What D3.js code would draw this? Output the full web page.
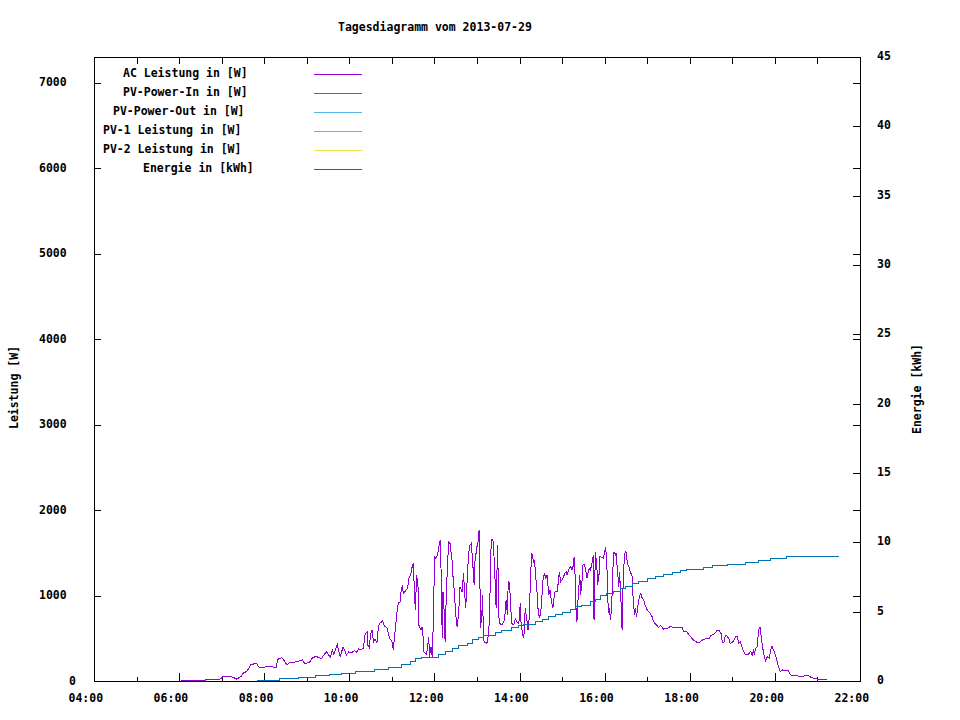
<!DOCTYPE html>
<html>
<head>
<meta charset="utf-8">
<script src="https://cdn.jsdelivr.net/npm/d3@7"></script>
<style>
body { margin: 0; background: #fff; }
text { font-family: "DejaVu Sans Mono", "Liberation Mono", monospace; font-size: 11.5px; font-weight: bold; fill: #000; }
</style>
</head>
<body>
<div id="chart"></div>
<script>
const day = "2013-07-29";
const chartTitle = "Tagesdiagramm vom 2013-07-29";
const yTitle = "Leistung [W]";
const y2Title = "Energie [kWh]";

const seriesNames = ["AC Leistung in [W]", "PV-Power-In in [W]", "PV-Power-Out in [W]",
  "PV-1 Leistung in [W]", "PV-2 Leistung in [W]", "Energie in [kWh]"];
const seriesColors = ["#9400d3", "#009e73", "#56b4e9", "#e69f00", "#f0e442", "#0072b2"];

const xMajorTicks = ["04:00","06:00","08:00","10:00","12:00","14:00","16:00","18:00","20:00","22:00"];
const xMinorTicks = ["05:00","07:00","09:00","11:00","13:00","15:00","17:00","19:00","21:00"];
const yTicks = [0, 1000, 2000, 3000, 4000, 5000, 6000, 7000];
const y2Ticks = [0, 5, 10, 15, 20, 25, 30, 35, 40, 45];
const yMax = 7300;
const y2Max = 45;

// AC Leistung [time, W]
const acPower = [
["06:02",8],["06:37",8],["06:38",23],["06:58",23],["07:00",35],["07:02",55],["07:12",55],["07:16",43],["07:21",23],["07:27",50],
["07:31",97],["07:35",109],["07:38",144],["07:41",191],["07:47",203],["07:49",207],["07:53",156],["08:01",164],["08:03",172],["08:17",160],
["08:19",254],["08:25",273],["08:29",226],["08:32",187],["08:37",222],["08:43",222],["08:48",230],["08:54",246],["08:57",203],["09:04",222],
["09:08",269],["09:13",289],["09:16",277],["09:21",261],["09:24",304],["09:28",343],["09:33",277],["09:36",359],["09:38",312],["09:43",425],
["09:47",284],["09:51",394],["09:54",351],["09:56",304],["09:59",339],["10:03",328],["10:07",355],["10:10",335],["10:13",374],["10:16",363],
["10:20",386],["10:22",538],["10:25",577],["10:26",421],["10:28",390],["10:30",546],["10:32",597],["10:34",460],["10:36",491],["10:39",452],
["10:41",635],["10:43",675],["10:47",702],["10:49",647],["10:53",624],["10:55",558],["10:57",491],["11:00",468],["11:02",363],["11:03",460],
["11:05",616],["11:07",792],["11:09",909],["11:12",928],["11:13",1065],["11:15",1123],["11:16",1026],["11:19",1053],["11:22",1084],["11:24",1201],
["11:27",1260],["11:29",1357],["11:30",1377],["11:32",1026],["11:33",831],["11:35",1241],["11:37",1084],["11:38",655],["11:41",597],["11:43",635],
["11:44",518],["11:45",343],["11:49",312],["11:52",518],["11:53",284],["11:55",401],["11:57",284],["11:59",889],["12:00",1454],["12:02",1435],
["12:04",1474],["12:06",1552],["12:08",1650],["12:09",1435],["12:11",500],["12:12",1045],["12:14",772],["12:15",460],["12:16",811],["12:18",1279],
["12:20",1630],["12:22",1610],["12:25",1396],["12:26",1241],["12:28",1045],["12:30",772],["12:32",635],["12:34",772],["12:36",1104],["12:39",1045],
["12:41",1260],["12:42",1123],["12:44",850],["12:46",1162],["12:48",1474],["12:50",1591],["12:52",1610],["12:54",1377],["12:56",1123],["12:57",1396],
["13:00",1572],["13:01",1591],["13:03",1767],["13:04",1241],["13:05",616],["13:07",811],["13:08",1006],["13:09",500],["13:10",460],["13:13",441],
["13:15",460],["13:17",655],["13:19",1201],["13:20",1650],["13:22",1650],["13:23",1630],["13:25",1279],["13:27",850],["13:29",1591],["13:30",1162],
["13:31",733],["13:32",675],["13:35",655],["13:38",694],["13:40",811],["13:41",947],["13:43",772],["13:44",1162],["13:46",1143],["13:47",927],
["13:49",675],["13:52",655],["13:54",733],["13:56",694],["13:59",675],["14:01",908],["14:02",694],["14:04",558],["14:06",500],["14:08",850],
["14:10",733],["14:12",597],["14:14",772],["14:15",1123],["14:17",1493],["14:18",1474],["14:20",1377],["14:21",1416],["14:23",1201],["14:24",1123],
["14:26",850],["14:28",733],["14:30",811],["14:32",1045],["14:33",1182],["14:35",1260],["14:37",1201],["14:39",1241],["14:41",1006],["14:43",1065],
["14:45",927],["14:47",850],["14:49",1006],["14:50",1045],["14:53",1045],["14:55",1182],["14:56",1279],["14:58",1162],["15:00",1182],["15:02",1221],
["15:04",1260],["15:06",1279],["15:07",1241],["15:09",1299],["15:12",1338],["15:14",1299],["15:16",1357],["15:17",1454],["15:19",1123],["15:20",694],
["15:21",714],["15:23",1045],["15:25",1241],["15:26",1006],["15:28",1162],["15:29",1357],["15:31",1365],["15:33",1318],["15:35",1201],["15:37",1279],
["15:38",1318],["15:40",1299],["15:42",1377],["15:44",1474],["15:45",714],["15:46",1162],["15:47",1513],["15:49",1338],["15:50",1123],["15:52",1241],
["15:53",1454],["15:54",1454],["15:58",1435],["16:00",1513],["16:01",1564],["16:03",1454],["16:04",987],["16:06",792],["16:07",850],["16:08",713],
["16:10",869],["16:11",1221],["16:13",1513],["16:15",1474],["16:16",1493],["16:18",1299],["16:20",1104],["16:21",1279],["16:23",948],["16:24",635],
["16:25",597],["16:26",1143],["16:28",1493],["16:30",1513],["16:32",1377],["16:34",1338],["16:36",1279],["16:39",1221],["16:40",987],["16:42",772],
["16:43",850],["16:45",752],["16:47",889],["16:49",987],["16:51",1026],["16:53",967],["16:55",948],["16:57",889],["17:00",831],["17:04",792],
["17:07",752],["17:09",694],["17:13",655],["17:16",628],["17:19",647],["17:23",608],["17:28",612],["17:32",635],["17:37",628],["17:49",628],
["17:52",573],["17:55",585],["17:59",538],["18:03",499],["18:08",460],["18:13",448],["18:18",480],["18:22",495],["18:27",491],["18:29",526],
["18:34",550],["18:38",585],["18:42",585],["18:44",558],["18:46",448],["18:48",448],["18:50",526],["18:52",530],["18:55",499],["18:57",441],
["19:00",448],["19:03",487],["19:05",526],["19:07",526],["19:09",441],["19:11",460],["19:13",421],["19:15",362],["19:18",312],["19:22",304],
["19:26",351],["19:28",304],["19:30",355],["19:31",323],["19:33",382],["19:35",402],["19:37",597],["19:39",628],["19:41",499],["19:43",382],
["19:45",285],["19:47",238],["19:49",285],["19:52",265],["19:54",362],["19:56",410],["19:58",362],["20:00",323],["20:01",304],["20:03",238],
["20:05",168],["20:07",121],["20:08",110],["20:11",129],["20:14",121],["20:17",129],["20:19",121],["20:21",82],["20:23",66],["20:27",70],
["20:32",62],["20:34",51],["20:41",59],["20:47",66],["20:49",51],["20:55",31],["21:01",20],["21:07",12],["21:14",12]
];

// no data for these on this day
const pvPowerIn = [];
const pvPowerOut = [];
const pv1Power = [];
const pv2Power = [];

// Energie [time, kWh]
const energy = [
["07:50",0.03],["08:22",0.19],["08:48",0.26],["09:12",0.38],["09:32",0.48],["09:49",0.55],["10:08",0.70],["10:36",0.84],["10:55",0.99],["11:14",1.22],
["11:26",1.39],["11:33",1.59],["11:42",1.73],["12:06",1.92],["12:15",2.11],["12:25",2.33],["12:34",2.54],["12:46",2.74],["12:53",2.96],["13:02",3.15],
["13:09",3.29],["13:26",3.48],["13:35",3.63],["13:49",3.84],["13:59",4.01],["14:05",4.09],["14:22",4.28],["14:32",4.47],["14:41",4.64],["14:50",4.81],
["15:00",4.97],["15:12",5.17],["15:19",5.36],["15:28",5.48],["15:40",5.70],["15:47",5.89],["15:54",6.13],["16:03",6.32],["16:13",6.49],["16:22",6.68],
["16:29",6.85],["16:39",7.04],["16:48",7.21],["17:00",7.38],["17:12",7.52],["17:23",7.71],["17:35",7.84],["17:47",7.98],["17:56",8.05],["18:20",8.20],
["18:32",8.31],["18:53",8.43],["19:19",8.56],["19:37",8.67],["19:54",8.80],["20:15",8.87],["20:17",9.01],["21:30",9.01]
];

//////////////////////////////////////////////////////////////////////////////

const svgWidth = 960, svgHeight = 720;
const margin = { top: 57, right: 100, bottom: 39, left: 94 };
const width = svgWidth - margin.left - margin.right;
const height = svgHeight - margin.top - margin.bottom;

const parseTime = d3.timeParse("%Y-%m-%d %H:%M");
const toDate = s => parseTime(day + " " + s);

const svg = d3.select("#chart")
  .append("svg")
  .attr("width", svgWidth)
  .attr("height", svgHeight);

svg.append("rect").attr("width", svgWidth).attr("height", svgHeight).attr("fill", "#fff");

const chartGroup = svg.append("g")
  .attr("transform", `translate(${margin.left}, ${margin.top})`);

const x = d3.scaleTime()
  .domain([toDate(xMajorTicks[0]), toDate(xMajorTicks[xMajorTicks.length - 1])])
  .range([0, width]);
const y = d3.scaleLinear().domain([0, yMax]).range([height, 0]);
const y2 = d3.scaleLinear().domain([0, y2Max]).range([height, 0]);

//////////////////////////////////////////////////////////////////////////////
// axes (gnuplot style: ticks pointing inwards)

function styleAxis(g) {
  g.select(".domain").remove();
  g.selectAll("line").attr("stroke", "#000").attr("shape-rendering", "crispEdges");
  g.attr("font-family", null).attr("font-size", null);
}

chartGroup.append("g")
  .attr("transform", `translate(0, ${height})`)
  .call(d3.axisBottom(x).tickValues(xMajorTicks.map(toDate)).tickSize(-8).tickFormat(d3.timeFormat("%H:%M")))
  .call(styleAxis)
  .call(g => g.selectAll("text")
    .attr("text-anchor", "start")
    .attr("x", function() { return -this.textContent.length * 5 - 1; })
    .attr("y", 21)
    .attr("dy", null));

chartGroup.append("g")
  .attr("transform", `translate(0, ${height})`)
  .call(d3.axisBottom(x).tickValues(xMinorTicks.map(toDate)).tickSize(-4).tickFormat(""))
  .call(styleAxis);

chartGroup.append("g")
  .call(d3.axisTop(x).tickValues(xMajorTicks.concat(xMinorTicks).map(toDate)).tickSize(-7).tickFormat(""))
  .call(styleAxis);

chartGroup.append("g")
  .call(d3.axisLeft(y).tickValues(yTicks).tickSize(-7).tickFormat(d3.format("d")))
  .call(styleAxis)
  .call(g => g.selectAll("text")
    .attr("text-anchor", "start")
    .attr("x", function() { return -15 - this.textContent.length * 10; })
    .attr("y", 3)
    .attr("dy", null));

chartGroup.append("g")
  .attr("transform", `translate(${width}, 0)`)
  .call(d3.axisRight(y).tickValues(yTicks).tickSize(-7).tickFormat(""))
  .call(styleAxis);

chartGroup.append("g")
  .attr("transform", `translate(${width}, 0)`)
  .call(d3.axisRight(y2).tickValues(y2Ticks).tickSize(-7).tickFormat(d3.format("d")))
  .call(styleAxis)
  .call(g => g.selectAll("text")
    .attr("text-anchor", "start")
    .attr("x", 17)
    .attr("y", 2.5)
    .attr("dy", null));

chartGroup.append("rect")
  .attr("x", 0.5)
  .attr("y", 0.5)
  .attr("width", width)
  .attr("height", height)
  .attr("fill", "none")
  .attr("stroke", "#000")
  .attr("shape-rendering", "crispEdges");

//////////////////////////////////////////////////////////////////////////////
// lines

const powerLine = d3.line()
  .x(d => x(toDate(d[0])))
  .y(d => y(d[1]));

const energyLine = d3.line()
  .curve(d3.curveStepAfter)
  .x(d => x(toDate(d[0])))
  .y(d => y2(d[1]));

const powerSeries = [acPower, pvPowerIn, pvPowerOut, pv1Power, pv2Power];

powerSeries.forEach((data, i) => {
  if (!data.length) return;
  chartGroup.append("path")
    .datum(data)
    .attr("d", powerLine)
    .attr("fill", "none")
    .attr("stroke", seriesColors[i])
    .attr("stroke-width", 1)
    .attr("shape-rendering", "crispEdges");
});

chartGroup.append("path")
  .datum(energy)
  .attr("d", energyLine)
  .attr("fill", "none")
  .attr("stroke", seriesColors[5])
  .attr("stroke-width", 1)
  .attr("shape-rendering", "crispEdges");

//////////////////////////////////////////////////////////////////////////////
// legend, title, axis titles

const legend = svg.append("g");

seriesNames.forEach((name, i) => {
  legend.append("text")
    .attr("x", 303 - name.length * 10)
    .attr("y", 77 + i * 19)
    .text(name);
  legend.append("line")
    .attr("x1", 314)
    .attr("x2", 362)
    .attr("y1", 74.5 + i * 19)
    .attr("y2", 74.5 + i * 19)
    .attr("stroke", seriesColors[i])
    .attr("shape-rendering", "crispEdges");
});

svg.append("text")
  .attr("x", svgWidth / 2 - chartTitle.length * 5 - 2)
  .attr("y", 31)
  .text(chartTitle);

svg.append("text")
  .attr("transform", `translate(18, ${margin.top + height / 2 + yTitle.length * 5}) rotate(-90)`)
  .text(yTitle);

svg.append("text")
  .attr("transform", `translate(921, ${margin.top + height / 2 + y2Title.length * 5}) rotate(-90)`)
  .text(y2Title);
</script>
</body>
</html>
